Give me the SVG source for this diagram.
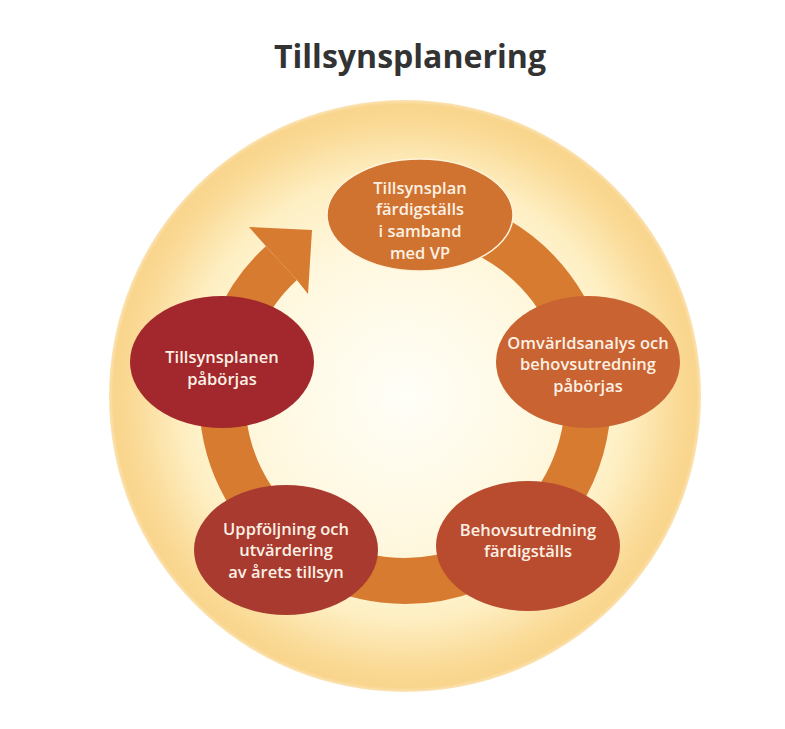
<svg xmlns="http://www.w3.org/2000/svg" width="785" height="729" viewBox="0 0 785 729">
  <defs>
    <radialGradient id="glow" cx="405" cy="396" r="296" gradientUnits="userSpaceOnUse">
      <stop offset="0" stop-color="#FFFEF8"/>
      <stop offset="0.5" stop-color="#FFF8DF"/>
      <stop offset="0.75" stop-color="#FEEFC3"/>
      <stop offset="0.92" stop-color="#FADA96"/>
      <stop offset="0.985" stop-color="#F9D58C"/>
      <stop offset="1" stop-color="#FBE3B4"/>
    </radialGradient>
    <style>
      .title { font-family: "Open Sans", "Liberation Sans", sans-serif; font-weight: 700; font-size: 33px; fill: #333333; text-anchor: middle; }
      .lbl { font-family: "Open Sans", "Liberation Sans", sans-serif; font-weight: 600; font-size: 16.5px; fill: #FCF1E4; text-anchor: middle; }
      .ring { fill: none; stroke: #D67B30; stroke-width: 46; }
    </style>
  </defs>
  <rect width="785" height="729" fill="#FFFFFF"/>
  <text class="title" x="410" y="68" textLength="272" lengthAdjust="spacingAndGlyphs">Tillsynsplanering</text>
  <circle cx="405" cy="396" r="296" fill="url(#glow)"/>
  <g id="connectors">
    <path class="ring" d="M 405 215 A 183 183 0 1 1 281.4 263.1"/>
    <polygon points="249,227 312,230 308,294 296.9,280 265.8,246.1" fill="#D67B30"/>
  </g>
  <g id="node-top">
    <ellipse cx="420" cy="215" rx="93" ry="56" fill="#D07330" stroke="#FFF3DA" stroke-width="1.5"/>
    <text class="lbl" x="420" y="194">Tillsynsplan</text>
    <text class="lbl" x="420" y="215">färdigställs</text>
    <text class="lbl" x="420" y="237">i samband</text>
    <text class="lbl" x="420" y="259">med VP</text>
  </g>
  <g id="node-right">
    <ellipse cx="588" cy="362" rx="92" ry="66" fill="#C96331"/>
    <text class="lbl" x="588" y="349">Omvärldsanalys och</text>
    <text class="lbl" x="588" y="370">behovsutredning</text>
    <text class="lbl" x="588" y="392">påbörjas</text>
  </g>
  <g id="node-bottom-right">
    <ellipse cx="528" cy="546" rx="92" ry="65" fill="#B94C2F"/>
    <text class="lbl" x="528" y="536">Behovsutredning</text>
    <text class="lbl" x="528" y="557">färdigställs</text>
  </g>
  <g id="node-bottom-left">
    <ellipse cx="286" cy="550" rx="92" ry="65" fill="#A93A2F"/>
    <text class="lbl" x="286" y="535">Uppföljning och</text>
    <text class="lbl" x="286" y="556">utvärdering</text>
    <text class="lbl" x="286" y="578">av årets tillsyn</text>
  </g>
  <g id="node-left">
    <ellipse cx="222" cy="362" rx="92" ry="66" fill="#A2282D"/>
    <text class="lbl" x="222" y="363">Tillsynsplanen</text>
    <text class="lbl" x="222" y="385">påbörjas</text>
  </g>
</svg>
